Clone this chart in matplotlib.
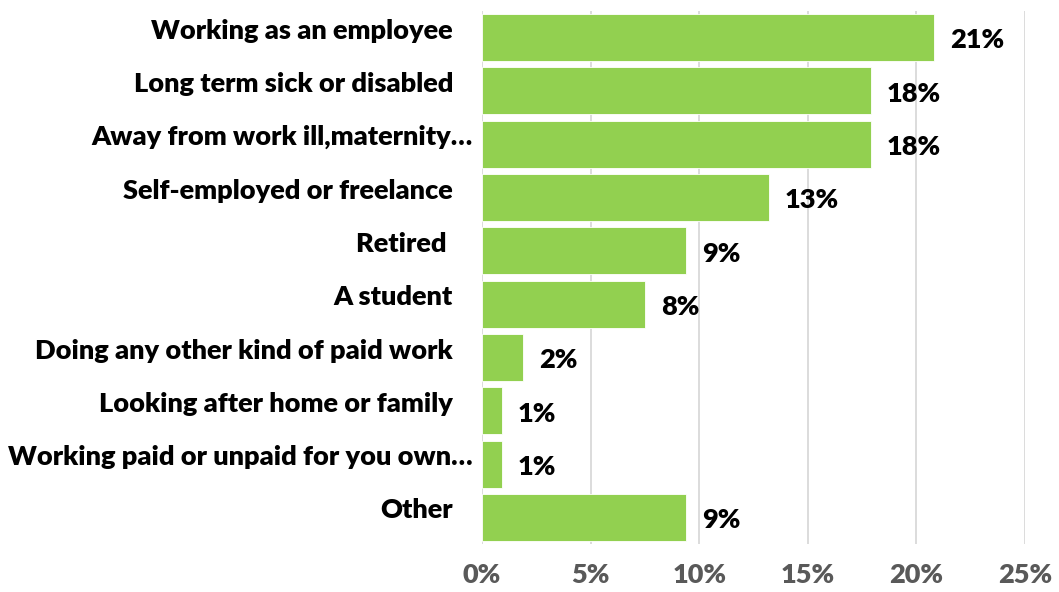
import matplotlib
matplotlib.use("Agg")
import matplotlib.pyplot as plt
from matplotlib.ticker import MultipleLocator, PercentFormatter

categories = [
    "Working as an employee",
    "Long term sick or disabled",
    "Away from work ill,maternity…",
    "Self-employed or freelance",
    "Retired ",
    "A student",
    "Doing any other kind of paid work",
    "Looking after home or family",
    "Working paid or unpaid for you own…",
    "Other",
]
shares = [20.8, 17.9, 17.9, 13.2, 9.4, 7.5, 1.9, 0.9, 0.9, 9.4]
x_ticks = [0, 5, 10, 15, 20, 25]

BAR = "#92D050"
GRID = "#D9D9D9"
TICK = "#595959"
FONT = "Lato"
SIZE = 19.5
WEIGHT = "heavy"

fig = plt.figure(figsize=(10.59, 5.92), dpi=100)
ax = fig.add_axes([482 / 1059, 1 - 544 / 592, (1025 - 482) / 1059, (544 - 11) / 592])

ypos = list(range(len(categories)))
ax.barh(ypos, shares, height=0.88, color=BAR, edgecolor="white", linewidth=0.6, zorder=3)

ax.set_xlim(x_ticks[0], x_ticks[-1])
ax.set_ylim(len(categories) - 0.5, -0.5)
ax.set_xticks(x_ticks)
ax.xaxis.set_major_formatter(PercentFormatter(decimals=0))
ax.grid(axis="x", color=GRID, linewidth=1.3, zorder=0)
for s in ax.spines.values():
    s.set_visible(False)
ax.tick_params(axis="x", length=0, pad=14, labelsize=SIZE, labelcolor=TICK)
for t in ax.get_xticklabels():
    t.set_fontweight(WEIGHT)
    t.set_fontfamily(FONT)
ax.set_yticks([])

# category names, lifted a little above each bar's centre
for y, name in zip(ypos, categories):
    pad = 9 if name.endswith("…") else 29
    ax.annotate(name, xy=(0, y), xytext=(-pad * 0.72, 5),
                textcoords="offset points", ha="right", va="center",
                fontsize=SIZE, fontweight=WEIGHT, family=FONT, color="black")

# value labels just past each bar end
for y, v in zip(ypos, shares):
    ax.annotate(f"{v:.0f}%", xy=(v, y), xytext=(16 * 0.72, -2),
                textcoords="offset points", ha="left", va="center",
                fontsize=SIZE, fontweight=WEIGHT, family=FONT, color="black")

fig.savefig("out.png", dpi=100)
